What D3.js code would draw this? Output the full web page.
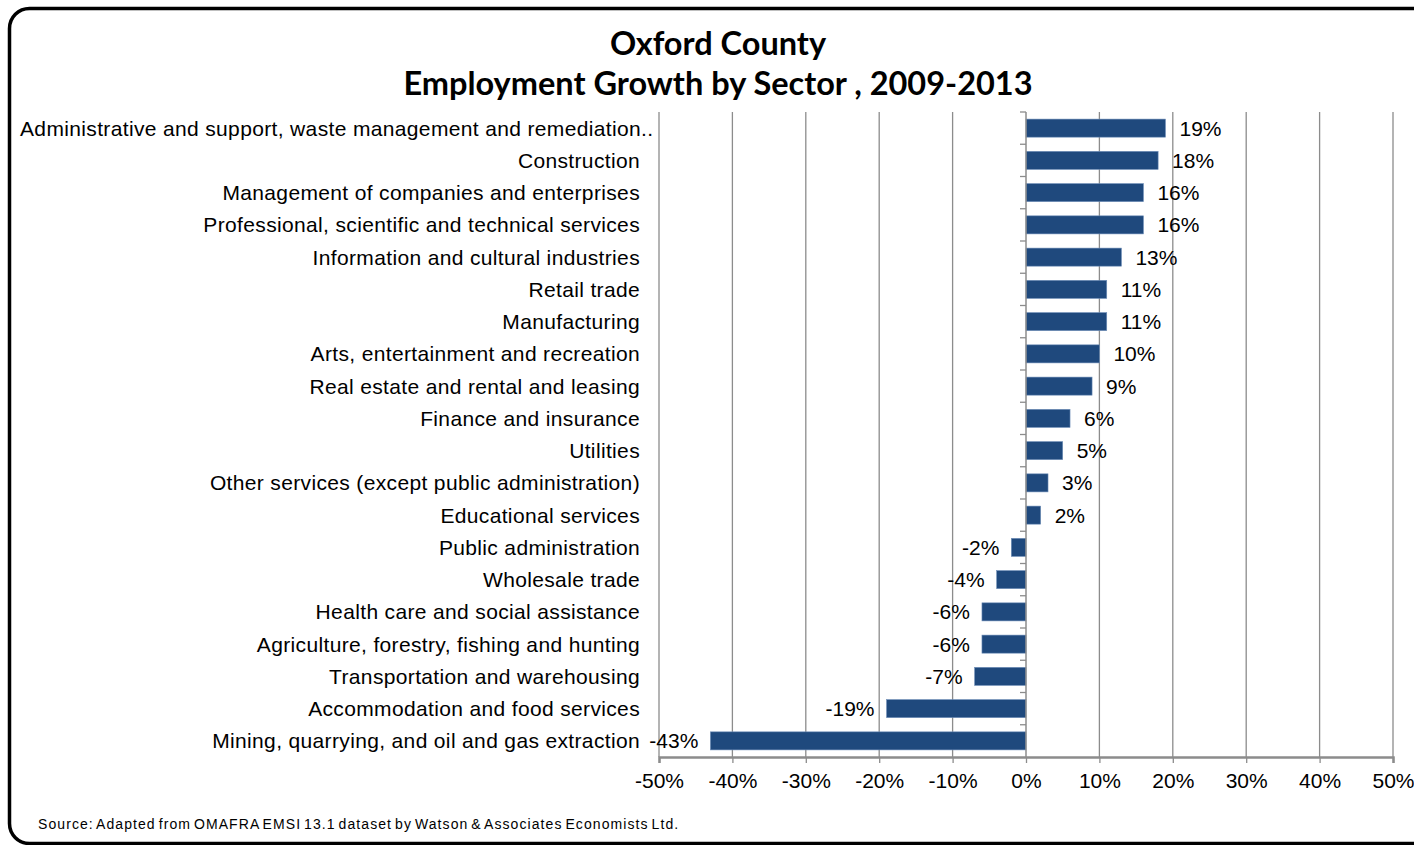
<!DOCTYPE html>
<html>
<head>
<meta charset="utf-8">
<script src="https://cdn.jsdelivr.net/npm/d3@7"></script>
<style>
  html, body { margin: 0; padding: 0; background: #fff; }
  svg { display: block; }
</style>
</head>
<body>
<svg id="chart" width="1414" height="845"></svg>
<script>
// Sectors, ordered from top to bottom
const sectors = [
  "Administrative and support, waste management and remediation..",
  "Construction",
  "Management of companies and enterprises",
  "Professional, scientific and technical services",
  "Information and cultural industries",
  "Retail trade",
  "Manufacturing",
  "Arts, entertainment and recreation",
  "Real estate and rental and leasing",
  "Finance and insurance",
  "Utilities",
  "Other services (except public administration)",
  "Educational services",
  "Public administration",
  "Wholesale trade",
  "Health care and social assistance",
  "Agriculture, forestry, fishing and hunting",
  "Transportation and warehousing",
  "Accommodation and food services",
  "Mining, quarrying, and oil and gas extraction"
];

// Employment growth 2009-2013, percent
const growth = [19, 18, 16, 16, 13, 11, 11, 10, 9, 6, 5, 3, 2, -2, -4, -6, -6, -7, -19, -43];

// Horizontal axis ticks, percent
const xTicks = [-50, -40, -30, -20, -10, 0, 10, 20, 30, 40, 50];

const titleLines = ["Oxford County", "Employment Growth by Sector , 2009-2013"];
const sourceNote = "Source: Adapted from OMAFRA EMSI 13.1 dataset by Watson & Associates Economists Ltd.";

const svg = d3.select("#chart");
const plot = { left: 659, right: 1393, top: 112, bottom: 757 };
const barColor = "#1f497d";
const gridColor = "#8c8c8c";
const labelFont = "'Liberation Sans', Arial, sans-serif";

// Rounded frame around the chart
svg.append("rect")
  .attr("x", 9.5).attr("y", 8.5)
  .attr("width", 1430).attr("height", 835)
  .attr("rx", 20).attr("ry", 20)
  .attr("fill", "#fff")
  .attr("stroke", "#000")
  .attr("stroke-width", 3.5);

// Title
svg.append("g").selectAll("text")
  .data(titleLines)
  .join("text")
  .attr("x", 718)
  .attr("y", (d, i) => 55 + i * 40)
  .attr("text-anchor", "middle")
  .attr("font-family", "Lato, 'Open Sans', sans-serif")
  .attr("font-weight", "bold")
  .attr("font-size", 32.5)
  .attr("fill", "#000")
  .text(d => d);

const x = d3.scaleLinear().domain([-50, 50]).range([plot.left, plot.right]);
const y = d3.scaleBand().domain(sectors).range([plot.top, plot.bottom]).paddingInner(0.44).paddingOuter(0.22);
const band = d3.scaleBand().domain(sectors).range([plot.top, plot.bottom]);

// Vertical gridlines
svg.append("g")
  .selectAll("line")
  .data(xTicks.filter(t => t !== 0))
  .join("line")
  .attr("x1", d => x(d)).attr("x2", d => x(d))
  .attr("y1", plot.top).attr("y2", plot.bottom)
  .attr("stroke", gridColor)
  .attr("stroke-width", 1.3);

// Bottom axis
const xAxis = d3.axisBottom(x)
  .tickValues(xTicks)
  .tickFormat(d => d + "%")
  .tickSize(6)
  .tickPadding(10);
const gx = svg.append("g")
  .attr("transform", `translate(0,${plot.bottom})`)
  .call(xAxis);
gx.select(".domain").attr("stroke", gridColor).attr("stroke-width", 2.5);
gx.selectAll(".tick line").attr("stroke", gridColor).attr("stroke-width", 1.3);
gx.selectAll(".tick text")
  .attr("font-family", labelFont)
  .attr("font-size", 21)
  .attr("fill", "#000");

// Bars
svg.append("g")
  .selectAll("rect")
  .data(sectors.map((s, i) => ({ s, v: growth[i] })))
  .join("rect")
  .attr("x", d => x(Math.min(0, d.v)))
  .attr("y", d => y(d.s))
  .attr("width", d => Math.abs(x(d.v) - x(0)))
  .attr("height", y.bandwidth())
  .attr("fill", barColor)
  .attr("stroke", "#6f8fb8")
  .attr("stroke-width", 0.6);

// Zero axis with category separators
const zero = svg.append("g");
zero.append("line")
  .attr("x1", x(0)).attr("x2", x(0))
  .attr("y1", plot.top).attr("y2", plot.bottom)
  .attr("stroke", gridColor).attr("stroke-width", 1.5);
zero.selectAll("line.sep")
  .data(sectors)
  .join("line")
  .attr("class", "sep")
  .attr("x1", x(0) - 6).attr("x2", x(0))
  .attr("y1", d => band(d)).attr("y2", d => band(d))
  .attr("stroke", gridColor).attr("stroke-width", 1.3);

// Value labels
svg.append("g")
  .selectAll("text")
  .data(sectors.map((s, i) => ({ s, v: growth[i] })))
  .join("text")
  .attr("x", d => d.v >= 0 ? x(d.v) + 14 : x(d.v) - 12)
  .attr("y", d => y(d.s) + y.bandwidth() / 2)
  .attr("dy", "0.36em")
  .attr("text-anchor", d => d.v >= 0 ? "start" : "end")
  .attr("font-family", labelFont)
  .attr("font-size", 21)
  .attr("fill", "#000")
  .text(d => d.v + "%");

// Category labels: right-aligned, long ones start at the left margin
const catLabels = svg.append("g")
  .selectAll("text")
  .data(sectors)
  .join("text")
  .attr("y", d => y(d) + y.bandwidth() / 2)
  .attr("dy", "0.36em")
  .attr("font-family", labelFont)
  .attr("font-size", 21)
  .attr("letter-spacing", 0.35)
  .attr("fill", "#000")
  .text(d => d);
catLabels.each(function () {
  const t = d3.select(this);
  const w = this.getComputedTextLength();
  if (640 - w < 20) t.attr("x", 20).attr("text-anchor", "start");
  else t.attr("x", 640).attr("text-anchor", "end");
});

// Source note
svg.append("text")
  .attr("x", 38).attr("y", 829)
  .attr("font-family", labelFont)
  .attr("font-size", 14)
  .attr("letter-spacing", 1.08)
  .attr("word-spacing", -2)
  .attr("fill", "#000")
  .text(sourceNote);
</script>
</body>
</html>
